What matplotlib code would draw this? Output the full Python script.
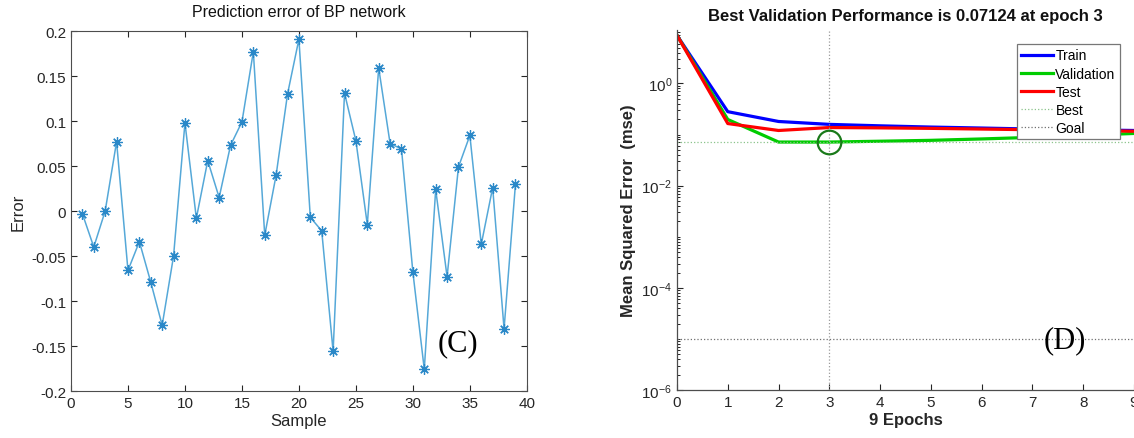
import numpy as np
import matplotlib
matplotlib.use("Agg")
import matplotlib.pyplot as plt
from matplotlib.ticker import LogLocator, NullFormatter, FixedLocator

plt.rcParams['font.family'] = ['Liberation Sans', 'DejaVu Sans']

# (C) prediction error of the BP network, one value per sample
samples = list(range(1, 40))
errors = [-0.003, -0.040, 0.000, 0.077, -0.066, -0.034, -0.079, -0.127, -0.050, 0.098,
          -0.008, 0.056, 0.015, 0.073, 0.099, 0.177, -0.027, 0.040, 0.130, 0.191,
          -0.007, -0.022, -0.156, 0.131, 0.078, -0.015, 0.159, 0.075, 0.069, -0.068,
          -0.176, 0.024, -0.073, 0.049, 0.084, -0.037, 0.026, -0.131, 0.030]

# (D) training performance
epochs = list(range(0, 10))
train_mse = [8.7, 0.28, 0.18, 0.158, 0.148, 0.140, 0.134, 0.128, 0.124, 0.120]
val_mse = [8.7, 0.197, 0.0713, 0.07124, 0.074, 0.077, 0.082, 0.088, 0.096, 0.105]
test_mse = [8.7, 0.164, 0.120, 0.137, 0.135, 0.132, 0.128, 0.124, 0.120, 0.116]
best_epoch = 3
best_val = 0.07124
goal = 1e-5

fig = plt.figure(figsize=(11.34, 4.39), dpi=100)
grey = '#262626'
spine_c = '#4d4d4d'

# ---- left panel
ax1 = fig.add_axes([0.0626, 0.107, 0.402, 0.820])
ax1.plot(samples, errors, color='#55a8d8', lw=1.1,
         marker=(8, 2, 0), ms=7.5, mec='#2a88c8', mew=0.9)
ax1.set_xlim(0, 40)
ax1.set_ylim(-0.2, 0.2)
ax1.set_xticks(range(0, 41, 5))
ax1.set_yticks(np.arange(-0.2, 0.201, 0.05))
ax1.set_yticklabels(['-0.2', '-0.15', '-0.1', '-0.05', '0', '0.05', '0.1', '0.15', '0.2'])
ax1.tick_params(direction='in', top=True, right=True, labelsize=11,
                colors=grey, length=4, width=0.8)
for s in ax1.spines.values():
    s.set_color(spine_c)
    s.set_linewidth(0.8)
ax1.set_title('Prediction error of BP network', fontsize=11.5, color='#111111', pad=11)
ax1.set_xlabel('Sample', fontsize=12, color=grey, labelpad=2)
ax1.set_ylabel('Error', fontsize=12, color=grey, labelpad=4)
ax1.text(0.849, 0.135, '(C)', transform=ax1.transAxes, ha='center', va='center',
         fontsize=22, family=['Liberation Serif', 'DejaVu Serif'])

# ---- right panel
ax2 = fig.add_axes([0.597, 0.109, 0.403, 0.820])
ax2.plot(epochs, train_mse, color='#0000ff', lw=2.3, label='Train')
ax2.plot(epochs, val_mse, color='#00cc00', lw=2.3, label='Validation')
ax2.plot(epochs, test_mse, color='#ff0000', lw=2.3, label='Test')
ax2.axhline(best_val, color='#8cc48c', lw=0.9, ls=':', label='Best')
ax2.axvline(best_epoch, color='#9a9a9a', lw=0.9, ls=':')
ax2.axhline(goal, color='#707070', lw=0.9, ls=':', label='Goal')
ax2.plot([best_epoch], [best_val], 'o', ms=17, mfc='none', mec='#1a7a1a', mew=1.6)
ax2.set_yscale('log')
ax2.set_xlim(0, 9)
ax2.set_ylim(1e-6, 11)
ax2.yaxis.set_major_locator(FixedLocator([1e-6, 1e-4, 1e-2, 1e0]))
ax2.yaxis.set_minor_locator(LogLocator(base=10, subs=np.arange(1, 10), numticks=20))
ax2.yaxis.set_minor_formatter(NullFormatter())
ax2.set_xticks(range(0, 10))
ax2.tick_params(direction='in', labelsize=11, colors=grey, length=4, width=0.8)
ax2.tick_params(which='minor', direction='in', length=2, width=0.6)
ax2.spines['top'].set_visible(False)
ax2.spines['right'].set_visible(False)
for s in ['left', 'bottom']:
    ax2.spines[s].set_color(spine_c)
    ax2.spines[s].set_linewidth(0.9)
ax2.set_title('Best Validation Performance is 0.07124 at epoch 3',
              fontsize=12, fontweight='bold', color='#111111', pad=7)
ax2.set_xlabel('9 Epochs', fontsize=12, fontweight='bold', color=grey, labelpad=2)
ax2.set_ylabel('Mean Squared Error  (mse)', fontsize=12, fontweight='bold',
               color=grey, labelpad=4)
leg = ax2.legend(loc='upper right', bbox_to_anchor=(0.969, 0.961), fontsize=10,
                 frameon=True, fancybox=False, edgecolor='#777777', framealpha=1,
                 handlelength=2.3, handletextpad=0.2, borderpad=0.3,
                 labelspacing=0.3, borderaxespad=0)
leg.get_frame().set_linewidth(0.9)
ax2.text(0.849, 0.14, '(D)', transform=ax2.transAxes, ha='center', va='center',
         fontsize=22, family=['Liberation Serif', 'DejaVu Serif'])

fig.savefig('out.png', dpi=100)
